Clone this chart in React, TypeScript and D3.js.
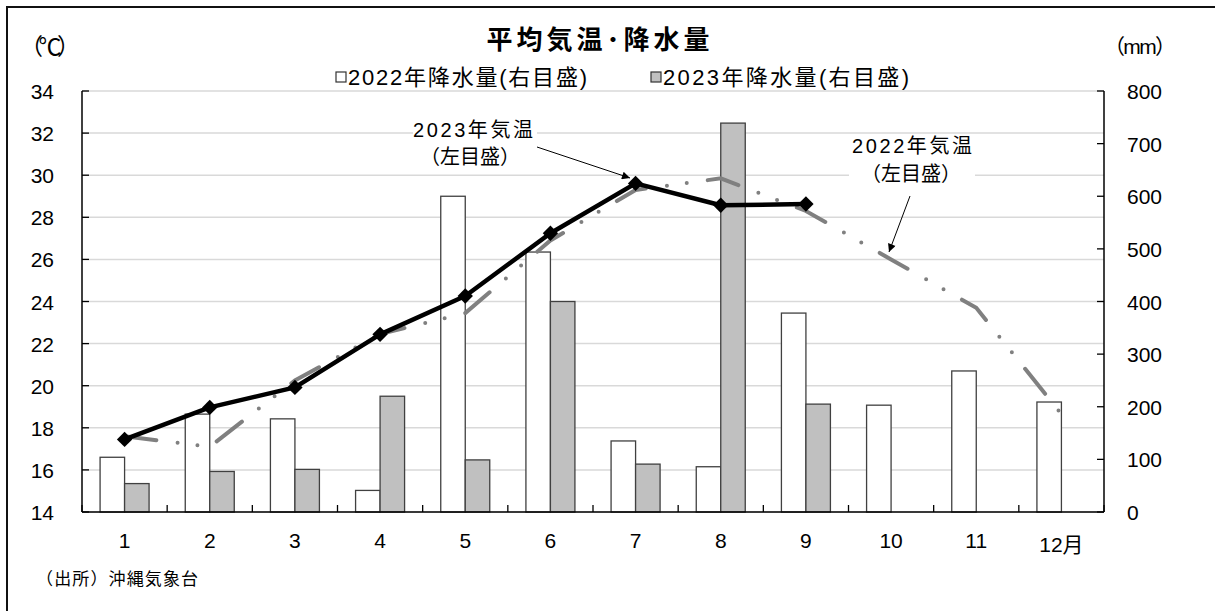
import React from 'react'
import * as d3 from 'd3'

// 月ラベル
const months = ['1', '2', '3', '4', '5', '6', '7', '8', '9', '10', '11', '12月']
// 降水量 (mm, 右目盛)
const rain2022 = [104, 186, 177, 41, 600, 494, 135, 86, 378, 203, 268, 209]
const rain2023 = [54, 77, 81, 220, 99, 400, 91, 739, 205]
// 平均気温 (℃, 左目盛)
const temp2022 = [17.6, 17.1, 20.25, 22.45, 23.45, 26.9, 29.3, 29.85, 28.3, 26.0, 23.7, 18.65]
const temp2023 = [17.45, 18.97, 19.92, 22.44, 24.26, 27.24, 29.61, 28.57, 28.63]
// 目盛
const tempTicks = [14, 16, 18, 20, 22, 24, 26, 28, 30, 32, 34]
const rainTicks = [0, 100, 200, 300, 400, 500, 600, 700, 800]

const W = 1215
const H = 611
const L = 82
const R = 1104
const T = 91
const B = 512
const FONT = "'Liberation Sans', 'Noto Sans CJK JP', sans-serif"

export default function App() {
  const x = d3.scaleBand<string>().domain(months).range([L, R]).padding(0)
  const bw = x.bandwidth()
  const cx = (i: number) => (x(months[i]) as number) + bw / 2
  const barW = 24.5
  const sub = d3.scaleBand<string>().domain(['2022', '2023']).range([-barW, barW])

  const yT = d3.scaleLinear().domain([14, 34]).range([B, T])
  const yR = d3.scaleLinear().domain([0, 800]).range([B, T])

  const line = d3.line<number>().x((_, i) => cx(i)).y(d => yT(d))
  const diamond = d3.symbol(d3.symbolSquare, 118)()

  const xTicks = [...months.map(m => x(m) as number), R]

  return (
    <svg width={W} height={H} style={{ position: 'absolute', left: 0, top: 0, fontFamily: FONT }}>
      <defs>
        <marker id="arr" viewBox="0 0 10 10" refX="10" refY="5" markerWidth="11" markerHeight="8"
          markerUnits="userSpaceOnUse" orient="auto">
          <path d="M0,0 L10,5 L0,10 z" fill="#000" />
        </marker>
      </defs>
      <rect x={0} y={0} width={W} height={H} fill="#fff" />
      <rect x={7} y={7} width={W + 20} height={H + 20} fill="none" stroke="#111" strokeWidth={2} />

      {/* title / legend */}
      <text x={598} y={40} textAnchor="middle" dominantBaseline="central" fontSize={26} fontWeight="bold"
        textLength={223} lengthAdjust="spacing" fill="#000">平均気温･降水量</text>
      <rect x={336} y={72} width={10} height={10} fill="#fff" stroke="#333" strokeWidth={1.2} />
      <text x={348} y={77} dominantBaseline="central" fontSize={22} textLength={239} lengthAdjust="spacing">2022年降水量(右目盛)</text>
      <rect x={651} y={72} width={10} height={10} fill="#c0c0c0" stroke="#333" strokeWidth={1.2} />
      <text x={663} y={77} dominantBaseline="central" fontSize={22} textLength={246} lengthAdjust="spacing">2023年降水量(右目盛)</text>

      <text x={20} y={47} dominantBaseline="central" fontSize={23} textLength={60} lengthAdjust="spacing">（℃）</text>
      <text x={1104} y={46} dominantBaseline="central" fontSize={21} textLength={72} lengthAdjust="spacing">（mm）</text>

      {/* grid */}
      {tempTicks.map(t => (
        <line key={'g' + t} x1={L} x2={R} y1={yT(t)} y2={yT(t)} stroke="#d9d9d9" strokeWidth={1.5} />
      ))}

      {/* bars */}
      {rain2022.map((v, i) => (
        <rect key={'a' + i} x={cx(i) + (sub('2022') as number)} y={yR(v)} width={sub.bandwidth()}
          height={B - yR(v)} fill="#fff" stroke="#404040" strokeWidth={1.3} />
      ))}
      {rain2023.map((v, i) => (
        <rect key={'b' + i} x={cx(i) + (sub('2023') as number)} y={yR(v)} width={sub.bandwidth()}
          height={B - yR(v)} fill="#c0c0c0" stroke="#404040" strokeWidth={1.3} />
      ))}

      {/* axes */}
      <line x1={L} x2={L} y1={T} y2={B} stroke="#000" strokeWidth={1.5} />
      <line x1={R} x2={R} y1={T} y2={B} stroke="#000" strokeWidth={1.5} />
      <line x1={L} x2={R} y1={B} y2={B} stroke="#000" strokeWidth={1.5} />
      {tempTicks.map(t => (
        <g key={'lt' + t}>
          <line x1={L} x2={L + 7} y1={yT(t)} y2={yT(t)} stroke="#000" strokeWidth={1.3} />
          <text x={54} y={yT(t) + 8} textAnchor="end" fontSize={21}>{t}</text>
        </g>
      ))}
      {rainTicks.map(t => (
        <g key={'rt' + t}>
          <line x1={R - 7} x2={R} y1={yR(t)} y2={yR(t)} stroke="#000" strokeWidth={1.3} />
          <text x={1127} y={yR(t) + 8} fontSize={21}>{t}</text>
        </g>
      ))}
      {xTicks.map((t, i) => (
        <line key={'xt' + i} x1={t} x2={t} y1={B - 7} y2={B} stroke="#000" strokeWidth={1.3} />
      ))}
      {months.map((m, i) => (
        <text key={'xl' + m} x={cx(i)} y={m.length > 2 ? 552 : 548} textAnchor="middle" fontSize={21}>{m}</text>
      ))}

      {/* temperature lines */}
      <path d={line(temp2022) as string} fill="none" stroke="#808080" strokeWidth={4}
        strokeLinecap="round" strokeDasharray="32 21.4 0 20 0 21.2" />
      <path d={line(temp2023) as string} fill="none" stroke="#000" strokeWidth={4.5} strokeLinejoin="round" />
      {temp2023.map((v, i) => (
        <path key={'d' + i} d={diamond as string} transform={`translate(${cx(i)},${yT(v)}) rotate(45)`} fill="#000" />
      ))}

      {/* annotations */}
      <rect x={413} y={116} width={124} height={54} fill="#fff" />
      <text x={473} y={130} textAnchor="middle" dominantBaseline="central" fontSize={20} textLength={120} lengthAdjust="spacing">2023年気温</text>
      <text x={470} y={157} textAnchor="middle" dominantBaseline="central" fontSize={20} textLength={100} lengthAdjust="spacing">（左目盛）</text>
      <line x1={537} y1={147} x2={630} y2={178} stroke="#000" strokeWidth={1} markerEnd="url(#arr)" />

      <rect x={849} y={134} width={126} height={54} fill="#fff" />
      <text x={912} y={146} textAnchor="middle" dominantBaseline="central" fontSize={20} textLength={120} lengthAdjust="spacing">2022年気温</text>
      <text x={911} y={174} textAnchor="middle" dominantBaseline="central" fontSize={20} textLength={100} lengthAdjust="spacing">（左目盛）</text>
      <line x1={910} y1={196} x2={889} y2={252} stroke="#000" strokeWidth={1} markerEnd="url(#arr)" />

      <text x={36} y={579} dominantBaseline="central" fontSize={17} textLength={162} lengthAdjust="spacing">（出所）沖縄気象台</text>
    </svg>
  )
}
